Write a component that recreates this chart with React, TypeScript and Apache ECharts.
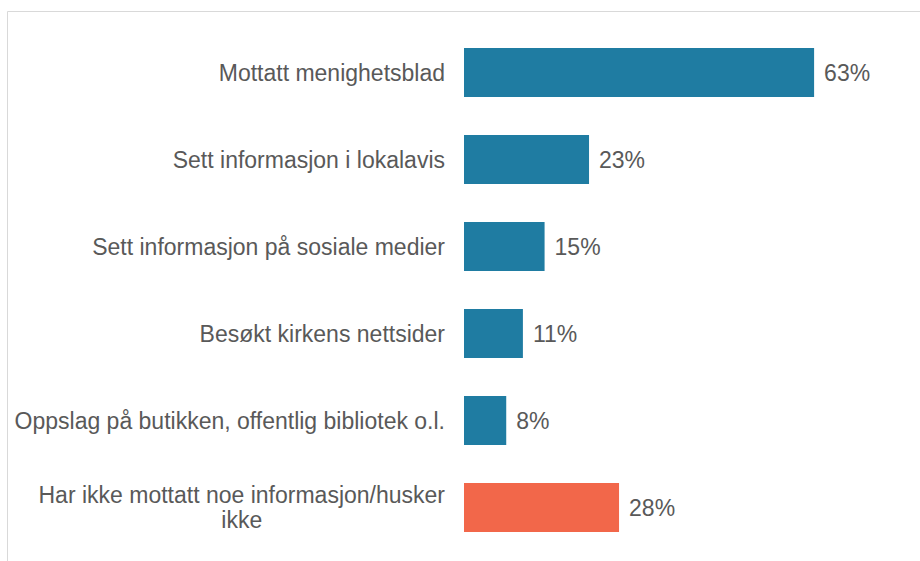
import React, { useEffect, useRef } from "react";
import * as echarts from "echarts";

const categories = [
  "Mottatt menighetsblad",
  "Sett informasjon i lokalavis",
  "Sett informasjon på sosiale medier",
  "Besøkt kirkens nettsider",
  "Oppslag på butikken, offentlig bibliotek o.l.",
  "Har ikke mottatt noe informasjon/husker\nikke",
];
const values = [63, 22.5, 14.5, 10.6, 7.6, 27.9];
const barColors = ["#1f7ca2", "#1f7ca2", "#1f7ca2", "#1f7ca2", "#1f7ca2", "#f2674a"];

const FONT = "Liberation Sans, Arial, sans-serif";
const FS = 23;

export default function App() {
  const ref = useRef<HTMLDivElement>(null);
  useEffect(() => {
    if (!ref.current) return;
    const chart = echarts.init(ref.current, undefined, { renderer: "svg" });
    chart.setOption({
      animation: false,
      backgroundColor: "#ffffff",
      textStyle: { fontFamily: FONT },
      grid: { left: 464, right: 67, top: 29, bottom: 10, containLabel: false },
      xAxis: {
        type: "value",
        min: 0,
        max: 70,
        show: false,
      },
      yAxis: {
        type: "category",
        inverse: true,
        data: categories,
        axisLine: { show: false },
        axisTick: { show: false },
        splitLine: { show: false },
        axisLabel: {
          margin: 19,
          fontSize: FS,
          color: "#595959",
          fontFamily: FONT,
          formatter: (v: string) =>
            v
              .split("\n")
              .map((l) => `{c|${l}}`)
              .join("\n"),
          rich: {
            c: {
              align: "center",
              fontSize: FS,
              color: "#595959",
              lineHeight: 25,
              fontFamily: FONT,
            },
          },
        },
      },
      series: [
        {
          type: "bar",
          barWidth: 49,
          data: values.map((v, i) => ({ value: v, itemStyle: { color: barColors[i] } })),
          label: {
            show: true,
            position: "right",
            distance: 10,
            formatter: (p: any) => `${Math.round(p.value)}%`,
            fontSize: FS,
            color: "#595959",
            fontFamily: FONT,
          },
        },
      ],
      graphic: [
        {
          type: "line",
          shape: { x1: 7.5, y1: 11.5, x2: 920, y2: 11.5 },
          style: { stroke: "#d9d9d9", lineWidth: 1 },
          silent: true,
        },
        {
          type: "line",
          shape: { x1: 7.5, y1: 11.5, x2: 7.5, y2: 561 },
          style: { stroke: "#d9d9d9", lineWidth: 1 },
          silent: true,
        },
      ],
    });
    return () => chart.dispose();
  }, []);
  return (
    <div
      ref={ref}
      style={{ position: "fixed", left: 0, top: 0, width: 920, height: 561 }}
    />
  );
}
